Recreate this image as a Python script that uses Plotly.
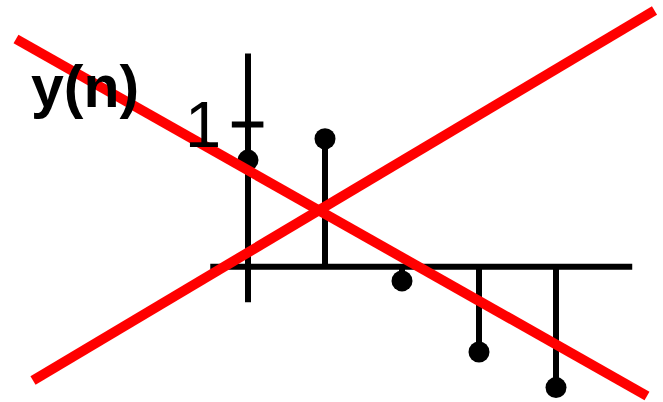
import plotly.graph_objects as go

# Discrete-time signal y(n)
n_values = [0, 1, 2, 3, 4]
y_values = [0.75, 0.90, -0.10, -0.60, -0.85]
tick_value = 1
axis_label = "y(n)"

W, H = 663, 402
# pixel placement of the origin and scale of one unit
x0_px, dx_px = 248, 77.0
y0_px, dy_px = 266.7, 142.2

x_range = [-x0_px / dx_px, (W - x0_px) / dx_px]
y_range = [(y0_px - H) / dy_px, y0_px / dy_px]

# stems: one vertical segment per sample
stem_x, stem_y = [], []
for n, v in zip(n_values, y_values):
    stem_x += [n, n, None]
    stem_y += [0, v, None]

fig = go.Figure()
fig.add_trace(go.Scatter(x=stem_x, y=stem_y, mode="lines",
                         line=dict(color="black", width=6),
                         hoverinfo="skip", showlegend=False))
fig.add_trace(go.Scatter(x=n_values, y=y_values, mode="markers",
                         marker=dict(color="black", size=21),
                         showlegend=False))

axis_style = dict(type="line", line=dict(color="black", width=6), layer="below",
                  xref="x", yref="y")
# horizontal n axis
fig.add_shape(x0=-0.49, x1=4.99, y0=0, y1=0, **axis_style)
# vertical amplitude axis
fig.add_shape(x0=0, x1=0, y0=-0.25, y1=1.50, **axis_style)
# tick mark at 1
fig.add_shape(x0=-0.21, x1=0.2, y0=tick_value, y1=tick_value, **axis_style)

fig.add_annotation(x=(223 - x0_px) / dx_px, y=tick_value, xref="x", yref="y",
                   text=str(tick_value), showarrow=False,
                   xanchor="right", yanchor="middle",
                   font=dict(family="Liberation Sans", size=65, color="black"))
fig.add_annotation(x=29 / W, y=1 - 87 / H, xref="paper", yref="paper",
                   text=f"<b>{axis_label}</b>", showarrow=False,
                   xanchor="left", yanchor="middle",
                   font=dict(family="Liberation Sans", size=59, color="black"))

# red cross drawn over the whole plot
cross = dict(type="line", xref="paper", yref="paper", layer="above",
             line=dict(color="#ff0000", width=10))
fig.add_shape(x0=16 / W, y0=1 - 39 / H, x1=647 / W, y1=1 - 396 / H, **cross)
fig.add_shape(x0=33 / W, y0=1 - 380.5 / H, x1=654.5 / W, y1=1 - 10.5 / H, **cross)

fig.update_xaxes(range=x_range, visible=False, fixedrange=True)
fig.update_yaxes(range=y_range, visible=False, fixedrange=True)
fig.update_layout(width=W, height=H, margin=dict(l=0, r=0, t=0, b=0),
                  paper_bgcolor="white", plot_bgcolor="white")

fig.write_html("out.html", config={"displayModeBar": False})
